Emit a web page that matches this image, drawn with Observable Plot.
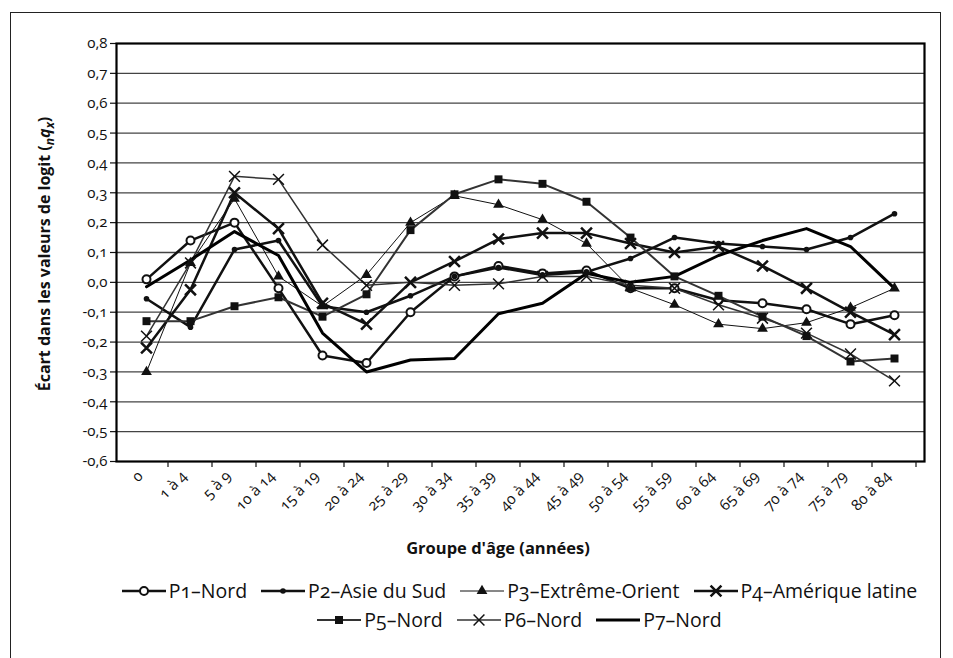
<!DOCTYPE html>
<html>
<head>
<meta charset="utf-8">
<script src="https://cdn.jsdelivr.net/npm/d3@7"></script>
<script src="https://cdn.jsdelivr.net/npm/@observablehq/plot@0.6"></script>
<style>
  html, body { margin: 0; padding: 0; background: #fff; width: 953px; height: 658px; overflow: hidden; }
  #frame { position: absolute; left: 10px; top: 12px; width: 929px; height: 720px; border: 1.5px solid #222; border-bottom: none; }
  #chart { position: absolute; left: 0; top: 0; }
  #legend { position: absolute; left: 0; top: 576px; width: 953px; font-family: "Open Sans", sans-serif; font-size: 19.5px; color: #111; font-variant-numeric: oldstyle-nums; }
  .row { display: flex; justify-content: center; align-items: center; height: 29px; padding-left: 86px; }
  .item { display: flex; align-items: center; margin: 0 7px; white-space: nowrap; }
  .item svg { margin-right: 3px; }
</style>
</head>
<body>
<div id="frame"></div>
<div id="chart"></div>
<div id="legend"></div>
<script>
// Age groups (x categories)
const ageGroups = ["0", "1 à 4", "5 à 9", "10 à 14", "15 à 19", "20 à 24", "25 à 29", "30 à 34", "35 à 39",
  "40 à 44", "45 à 49", "50 à 54", "55 à 59", "60 à 64", "65 à 69", "70 à 74", "75 à 79", "80 à 84"];

// Y tick values
const yTicks = [-0.6, -0.5, -0.4, -0.3, -0.2, -0.1, 0, 0.1, 0.2, 0.3, 0.4, 0.5, 0.6, 0.7, 0.8];

// Logit deviations per series
const p1Nord = [0.01, 0.14, 0.20, -0.02, -0.245, -0.27, -0.10, 0.02, 0.055, 0.03, 0.04, -0.02, -0.02, -0.06, -0.07, -0.09, -0.14, -0.11];
const p2AsieDuSud = [-0.055, -0.15, 0.11, 0.14, -0.08, -0.10, -0.045, 0.02, 0.05, 0.025, 0.035, 0.08, 0.15, 0.13, 0.12, 0.11, 0.15, 0.23];
const p3ExtremeOrient = [-0.30, 0.065, 0.28, 0.02, -0.08, 0.025, 0.20, 0.29, 0.26, 0.21, 0.13, -0.02, -0.075, -0.14, -0.155, -0.135, -0.085, -0.02];
const p4AmeriqueLatine = [-0.22, -0.025, 0.30, 0.18, -0.07, -0.14, 0.0, 0.07, 0.145, 0.165, 0.165, 0.13, 0.10, 0.12, 0.055, -0.02, -0.10, -0.175];
const p5Nord = [-0.13, -0.13, -0.08, -0.05, -0.115, -0.04, 0.175, 0.295, 0.345, 0.33, 0.27, 0.15, 0.02, -0.045, -0.115, -0.18, -0.265, -0.255];
const p6Nord = [-0.18, 0.065, 0.355, 0.345, 0.125, -0.01, 0.0, -0.01, -0.005, 0.02, 0.02, -0.01, -0.02, -0.075, -0.12, -0.17, -0.24, -0.33];
const p7Nord = [-0.015, 0.075, 0.17, 0.09, -0.17, -0.30, -0.26, -0.255, -0.105, -0.07, 0.03, 0.0, 0.02, 0.09, 0.14, 0.18, 0.12, -0.02];

const seriesNames = ["P1–Nord", "P2–Asie du Sud", "P3–Extrême-Orient", "P4–Amérique latine", "P5–Nord", "P6–Nord", "P7–Nord"];
const seriesValues = [p1Nord, p2AsieDuSud, p3ExtremeOrient, p4AmeriqueLatine, p5Nord, p6Nord, p7Nord];

// Line and marker style for each series
const styles = [
  {line: "#111", width: 2.5, symbol: "circle", r: 4, fill: "#fff", mstroke: "#111", mwidth: 2},
  {line: "#111", width: 2.5, symbol: "circle", r: 2.8, fill: "#111", mstroke: "none", mwidth: 0},
  {line: "#111", width: 1, symbol: "triangle", r: 4, fill: "#111", mstroke: "none", mwidth: 0},
  {line: "#111", width: 2.5, symbol: "times", r: 5, fill: "none", mstroke: "#111", mwidth: 2.5},
  {line: "#333", width: 2, symbol: "square", r: 4.5, fill: "#111", mstroke: "none", mwidth: 0},
  {line: "#333", width: 1.5, symbol: "times", r: 5, fill: "none", mstroke: "#111", mwidth: 1.5},
  {line: "#000", width: 3, symbol: null}
];

const rows = seriesNames.map((name, s) => ageGroups.map((age, i) => ({series: name, age, value: seriesValues[s][i]})));

const fmt = d => d.toFixed(1).replace(".", ",");
const FONT = "Open Sans, sans-serif";

const marks = [
  Plot.ruleY(yTicks.filter(t => t > -0.6 && t < 0.8), {stroke: "#444", strokeWidth: 1.3}),
  Plot.axisY(yTicks, {tickSize: 6, tickPadding: 3, tickFormat: fmt, fontSize: 15, label: null, stroke: "#111", strokeWidth: 1.2}),
  Plot.axisX({tickSize: 0, tickRotate: -45, tickPadding: 12, dx: -6, fontSize: 15, label: null})
];
rows.forEach((data, s) => {
  const st = styles[s];
  marks.push(Plot.line(data, {x: "age", y: "value", stroke: st.line, strokeWidth: st.width, strokeLinejoin: "round"}));
});
rows.forEach((data, s) => {
  const st = styles[s];
  if (st.symbol) marks.push(Plot.dot(data, {x: "age", y: "value", symbol: () => st.symbol, r: st.r, fill: st.fill, stroke: st.mstroke, strokeWidth: st.mwidth}));
});
marks.push(Plot.frame({stroke: "#000", strokeWidth: 2.2}));

const plot = Plot.plot({
  width: 953,
  height: 560,
  marginLeft: 116,
  marginRight: 29,
  marginTop: 43,
  marginBottom: 99,
  style: {fontFamily: FONT, color: "#111", background: "transparent", overflow: "visible"},
  x: {type: "point", domain: ageGroups, padding: 0.5},
  y: {domain: [-0.6, 0.8]},
  symbol: {type: "identity"},
  marks
});
document.getElementById("chart").appendChild(plot);

const svg = d3.select(plot);
// Old-style figures on all tick labels
svg.selectAll("text").style("font-variant-numeric", "oldstyle-nums");

// Category boundary ticks under the x axis, placed with the plot's own x scale
const xs = plot.scale("x");
const ys = plot.scale("y");
const step = xs.apply(ageGroups[1]) - xs.apply(ageGroups[0]);
const y0 = ys.apply(-0.6);
const bounds = ageGroups.map(a => xs.apply(a) - step / 2).concat([xs.apply(ageGroups[ageGroups.length - 1]) + step / 2]);
svg.append("g").selectAll("line").data(bounds.slice(1)).join("line")
  .attr("x1", d => d).attr("x2", d => d).attr("y1", y0).attr("y2", y0 + 6)
  .attr("stroke", "#111").attr("stroke-width", 1.2);

// Axis titles
const yTitle = svg.append("text")
  .attr("transform", `translate(50,${(ys.apply(0.8) + y0) / 2 + 2}) rotate(-90)`)
  .attr("text-anchor", "middle")
  .attr("font-family", FONT).attr("font-weight", "bold").attr("font-size", 16).attr("fill", "#111");
yTitle.append("tspan").text("Écart dans les valeurs de logit (");
yTitle.append("tspan").attr("font-style", "italic").attr("font-size", 12).attr("dy", 4).text("n");
yTitle.append("tspan").attr("font-style", "italic").attr("dy", -4).text("q");
yTitle.append("tspan").attr("font-style", "italic").attr("font-size", 12).attr("dy", 4).text("x");
yTitle.append("tspan").attr("dy", -4).text(")");

svg.append("text")
  .attr("x", xs.apply(ageGroups[8]))
  .attr("y", 554)
  .attr("text-anchor", "middle")
  .attr("font-family", FONT).attr("font-weight", "bold").attr("font-size", 16.5).attr("fill", "#111")
  .text("Groupe d'âge (années)");

// Legend
const legend = d3.select("#legend");
const legendRows = [[0, 1, 2, 3], [4, 5, 6]];
legendRows.forEach(idx => {
  const row = legend.append("div").attr("class", "row");
  idx.forEach(s => {
    const st = styles[s];
    const item = row.append("div").attr("class", "item");
    const g = item.append("svg").attr("width", 44).attr("height", 16);
    g.append("line").attr("x1", 0).attr("x2", 44).attr("y1", 8).attr("y2", 8)
      .attr("stroke", st.line).attr("stroke-width", st.width);
    if (st.symbol) {
      const symbolType = {circle: d3.symbolCircle, triangle: d3.symbolTriangle, square: d3.symbolSquare, times: d3.symbolTimes}[st.symbol];
      g.append("path").attr("transform", "translate(22,8)")
        .attr("d", d3.symbol(symbolType, Math.PI * st.r * st.r)())
        .attr("fill", st.fill).attr("stroke", st.mstroke).attr("stroke-width", st.mwidth);
    }
    item.append("span").text(seriesNames[s]);
  });
});
</script>
</body>
</html>
